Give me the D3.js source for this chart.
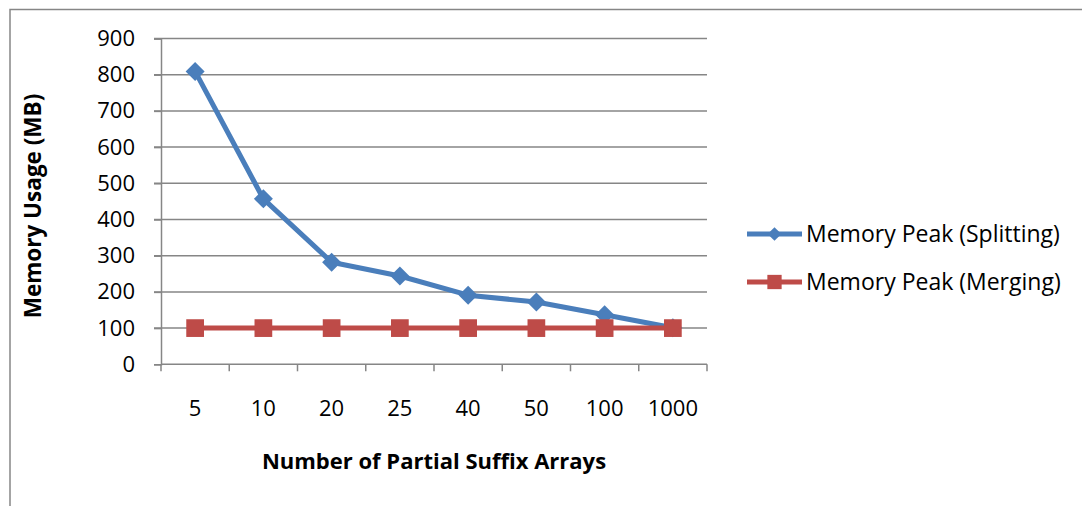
<!DOCTYPE html>
<html>
<head>
<meta charset="utf-8">
<script src="https://cdn.jsdelivr.net/npm/d3@7"></script>
<style>
  body { margin: 0; background: #fff; }
  svg { display: block; }
  text { font-family: "Open Sans", "Noto Sans", sans-serif; fill: #000; }
</style>
</head>
<body>
<svg id="chart" width="1082" height="506"></svg>
<script>
// data
var categorias = ["5", "10", "20", "25", "40", "50", "100", "1000"];
var splitting = [809, 457, 282, 244, 191, 172, 137, 101];
var merging = [100, 100, 100, 100, 100, 100, 100, 100];
var yTicks = [0, 100, 200, 300, 400, 500, 600, 700, 800, 900];
var nombres = ["Memory Peak (Splitting)", "Memory Peak (Merging)"];

var azul = "#4a7ebb", rojo = "#be4b48", gris = "#868686";

var svg = d3.select("#chart");

var margen = {izq: 161, der: 707, arriba: 38.5, abajo: 364.3};

// outer chart frame (only top and left edges are visible)
svg.append("path")
  .attr("d", "M10,506 L10,9.5 L1082,9.5")
  .attr("fill", "none")
  .attr("stroke", gris)
  .attr("stroke-width", 1.5);

var x = d3.scaleBand().domain(categorias).range([margen.izq, margen.der]);
var y = d3.scaleLinear().domain([0, 900]).range([margen.abajo, margen.arriba]);

// gridlines
svg.append("g")
  .selectAll("line")
  .data(yTicks.filter(function (d) { return d > 0; }))
  .enter()
  .append("line")
    .attr("x1", margen.izq - 7)
    .attr("x2", margen.der)
    .attr("y1", function (d) { return y(d); })
    .attr("y2", function (d) { return y(d); })
    .attr("stroke", gris)
    .attr("stroke-width", 1.5);

// y axis
var yAxis = svg.append("g")
  .attr("transform", "translate(" + margen.izq + ",0)")
  .call(d3.axisLeft(y).tickValues(yTicks).tickSize(7).tickPadding(19));
yAxis.select(".domain").attr("stroke", gris).attr("stroke-width", 1.5);
yAxis.selectAll(".tick line").attr("stroke", gris).attr("stroke-width", 1.5);
yAxis.selectAll("text")
  .attr("font-size", 22)
  .attr("font-family", "Open Sans, sans-serif")
  .attr("fill", "#000");

// x axis: ticks between categories
var xAxis = svg.append("g")
  .attr("transform", "translate(0," + margen.abajo + ")");
xAxis.append("line")
  .attr("x1", margen.izq).attr("x2", margen.der)
  .attr("stroke", gris).attr("stroke-width", 1.5);
var bordes = categorias.map(function (c) { return x(c); }).concat([margen.der]);
xAxis.selectAll(".tk")
  .data(bordes)
  .enter()
  .append("line")
    .attr("class", "tk")
    .attr("x1", function (d) { return d; })
    .attr("x2", function (d) { return d; })
    .attr("y1", 0).attr("y2", 7)
    .attr("stroke", gris).attr("stroke-width", 1.5);
xAxis.selectAll(".lbl")
  .data(categorias)
  .enter()
  .append("text")
    .attr("class", "lbl")
    .attr("x", function (d) { return x(d) + x.bandwidth() / 2; })
    .attr("y", 52)
    .attr("text-anchor", "middle")
    .attr("font-size", 22)
    .text(function (d) { return d; });

// axis titles
svg.append("text")
  .attr("transform", "translate(41,206) rotate(-90)")
  .attr("text-anchor", "middle")
  .attr("font-size", 22.5)
  .attr("font-weight", "bold")
  .text("Memory Usage (MB)");

svg.append("text")
  .attr("x", 434)
  .attr("y", 469)
  .attr("text-anchor", "middle")
  .attr("font-size", 22)
  .attr("font-weight", "bold")
  .text("Number of Partial Suffix Arrays");

var cx = function (i) { return x(categorias[i]) + x.bandwidth() / 2; };
var linea = d3.line()
  .x(function (d, i) { return cx(i); })
  .y(function (d) { return y(d); });

function serie(datos, color, simbolo) {
  svg.append("path")
    .datum(datos)
    .attr("d", linea)
    .attr("fill", "none")
    .attr("stroke", color)
    .attr("stroke-width", 5)
    .attr("stroke-linejoin", "round");
  svg.append("g")
    .selectAll("path")
    .data(datos)
    .enter()
    .append("path")
      .attr("transform", function (d, i) { return "translate(" + cx(i) + "," + y(d) + ")"; })
      .attr("d", simbolo)
      .attr("fill", color);
}

serie(splitting, azul, d3.symbol().type(d3.symbolDiamond2).size(230));
serie(merging, rojo, d3.symbol().type(d3.symbolSquare2).size(400));

// legend
var leyenda = svg.append("g");
[[azul, d3.symbol().type(d3.symbolDiamond2).size(120)],
 [rojo, d3.symbol().type(d3.symbolSquare2).size(260)]].forEach(function (s, i) {
  var ly = 234 + i * 48;
  leyenda.append("line")
    .attr("x1", 747).attr("x2", 802)
    .attr("y1", ly).attr("y2", ly)
    .attr("stroke", s[0]).attr("stroke-width", 5);
  leyenda.append("path")
    .attr("transform", "translate(774.5," + ly + ")")
    .attr("d", s[1])
    .attr("fill", s[0]);
  leyenda.append("text")
    .attr("x", 806)
    .attr("y", ly + 8)
    .attr("font-size", 23)
    .text(nombres[i]);
});
</script>
</body>
</html>
